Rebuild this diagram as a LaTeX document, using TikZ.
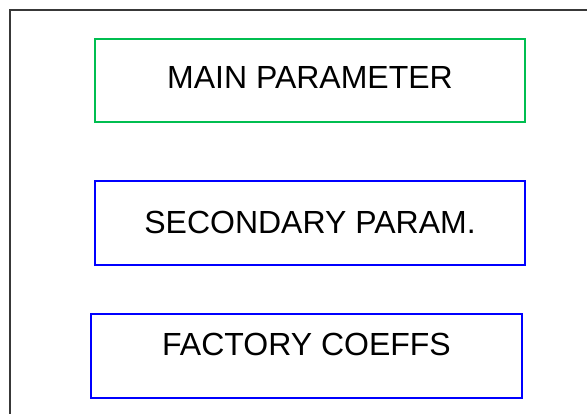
\documentclass[tikz,border=0pt]{standalone}
\usepackage{fontspec}
\setmainfont{Liberation Sans}
\definecolor{framegray}{RGB}{56,56,56}
\definecolor{maingreen}{RGB}{0,190,80}
\definecolor{parblue}{RGB}{0,0,255}
\begin{document}
\begin{tikzpicture}[x=1pt,y=-1pt,
  parambox/.style={draw, line width=1.4pt, inner sep=0pt,
    font=\fontsize{32}{38}\selectfont, text height=23pt},
  mainbox/.style={parambox, draw=maingreen},
  subbox/.style={parambox, draw=parblue}]
  \useasboundingbox (0,0) rectangle (587,414);
  % outer panel frame (only top and left edges visible)
  \draw[framegray, line width=2.4pt] (10,414) -- (10,10) -- (587,10);
  % parameter groups
  \node[mainbox, minimum width=430pt, minimum height=83pt, text depth=7pt]
    (main) at (310,80.5) {MAIN PARAMETER};
  \node[subbox, minimum width=430pt, minimum height=84pt, text depth=2pt]
    (secondary) at (310,223) {SECONDARY PARAM.};
  \node[subbox, minimum width=431pt, minimum height=84pt, text depth=24pt]
    (factory) at (306.5,356) {FACTORY COEFFS};
\end{tikzpicture}
\end{document}
